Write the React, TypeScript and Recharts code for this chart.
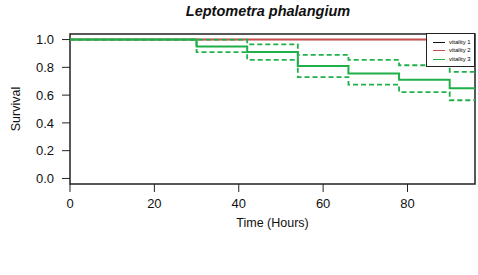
import {
  LineChart,
  Line,
  XAxis,
  YAxis,
  Label,
  ReferenceArea,
} from "recharts";

const TIMES = [0, 30, 42, 54, 66, 78, 90, 96];
const VITALITY_1 = [1, 1, 1, 1, 1, 1, 1, 1];
const VITALITY_2 = [1, 1, 1, 1, 1, 1, 1, 1];
const VITALITY_3 = [1, 0.95, 0.91, 0.81, 0.755, 0.71, 0.65, 0.65];
const V3_UPPER = [1, 1, 0.966, 0.89, 0.854, 0.815, 0.768, 0.768];
const V3_LOWER = [1, 0.91, 0.854, 0.73, 0.676, 0.622, 0.563, 0.563];

const X_TICKS = [0, 20, 40, 60, 80];
const Y_TICKS = [0, 0.2, 0.4, 0.6, 0.8, 1.0];

const GREEN = "#1fb04a";
const RED = "#c84f4f";
const FONT = "'Liberation Sans', Arial, sans-serif";

const LEGEND_ITEMS = [
  { label: "vitality 1", color: "#111" },
  { label: "vitality 2", color: RED },
  { label: "vitality 3", color: GREEN },
];

const data = TIMES.map((t, i) => ({
  time: t,
  v1: VITALITY_1[i],
  v2: VITALITY_2[i],
  v3: VITALITY_3[i],
  up: V3_UPPER[i],
  lo: V3_LOWER[i],
}));

// legend box drawn over the plot corner, like R's legend("topright")
function SurvLegend() {
  return (
    <div
      style={{
        position: "absolute",
        left: 426,
        top: 33,
        width: 49,
        height: 34,
        boxSizing: "border-box",
        border: "1px solid #222",
        background: "#fff",
        padding: "4px 0 0 6px",
        fontFamily: FONT,
        fontSize: 6,
        lineHeight: "8.4px",
        whiteSpace: "nowrap",
      }}
    >
      {LEGEND_ITEMS.map((it) => (
        <div key={it.label} style={{ display: "flex", alignItems: "center" }}>
          <span
            style={{
              display: "inline-block",
              width: 12,
              height: 0,
              borderTop: `1.5px solid ${it.color}`,
              marginRight: 4,
            }}
          />
          <span>{it.label}</span>
        </div>
      ))}
    </div>
  );
}

export default function App() {
  return (
    <div style={{ position: "absolute", left: 0, top: 0, width: 478, height: 275, background: "#fff" }}>
      <div
        style={{
          position: "absolute",
          left: 0,
          width: 536,
          top: 3,
          textAlign: "center",
          fontFamily: FONT,
          fontWeight: "bold",
          fontStyle: "italic",
          fontSize: 14.5,
          color: "#111",
        }}
      >
        Leptometra phalangium
      </div>
      <LineChart
        width={478}
        height={275}
        data={data}
        margin={{ top: 34, right: 3, bottom: 61, left: 5 }}
      >
        <XAxis
          dataKey="time"
          type="number"
          domain={[0, 96]}
          ticks={X_TICKS}
          allowDataOverflow
          axisLine={false}
          tickSize={8}
          tickMargin={7}
          height={30}
          tickLine={{ stroke: "#222" }}
          tick={{ fill: "#111", fontSize: 13, fontFamily: FONT }}
        >
          <Label
            value="Time (Hours)"
            position="bottom"
            offset={4}
            style={{ fill: "#111", fontSize: 12.5, fontFamily: FONT }}
          />
        </XAxis>
        <YAxis
          type="number"
          domain={[-0.04, 1.04]}
          ticks={Y_TICKS}
          allowDataOverflow
          axisLine={false}
          width={65}
          tickSize={8}
          tickMargin={8}
          tickLine={{ stroke: "#222" }}
          tickFormatter={(v: number) => v.toFixed(1)}
          tick={{ fill: "#111", fontSize: 13, fontFamily: FONT }}
        >
          <Label
            value="Survival"
            angle={-90}
            position="insideLeft"
            offset={11}
            style={{ fill: "#111", fontSize: 12.5, fontFamily: FONT, textAnchor: "middle" }}
          />
        </YAxis>
        <ReferenceArea
          x1={0}
          x2={96}
          y1={-0.04}
          y2={1.04}
          fill="none"
          stroke="#222"
          strokeWidth={1.5}
          ifOverflow="visible"
        />
        <Line type="stepAfter" dataKey="v1" stroke="#111" strokeWidth={1} dot={false} isAnimationActive={false} />
        <Line type="stepAfter" dataKey="v2" stroke={RED} strokeWidth={2} dot={false} isAnimationActive={false} />
        <Line type="stepAfter" dataKey="lo" stroke={GREEN} strokeWidth={1.8} strokeDasharray="5 3" dot={false} isAnimationActive={false} />
        <Line type="stepAfter" dataKey="up" stroke={GREEN} strokeWidth={1.8} strokeDasharray="5 3" dot={false} isAnimationActive={false} />
        <Line type="stepAfter" dataKey="v3" stroke={GREEN} strokeWidth={2} dot={false} isAnimationActive={false} />
      </LineChart>
      <SurvLegend />
    </div>
  );
}
